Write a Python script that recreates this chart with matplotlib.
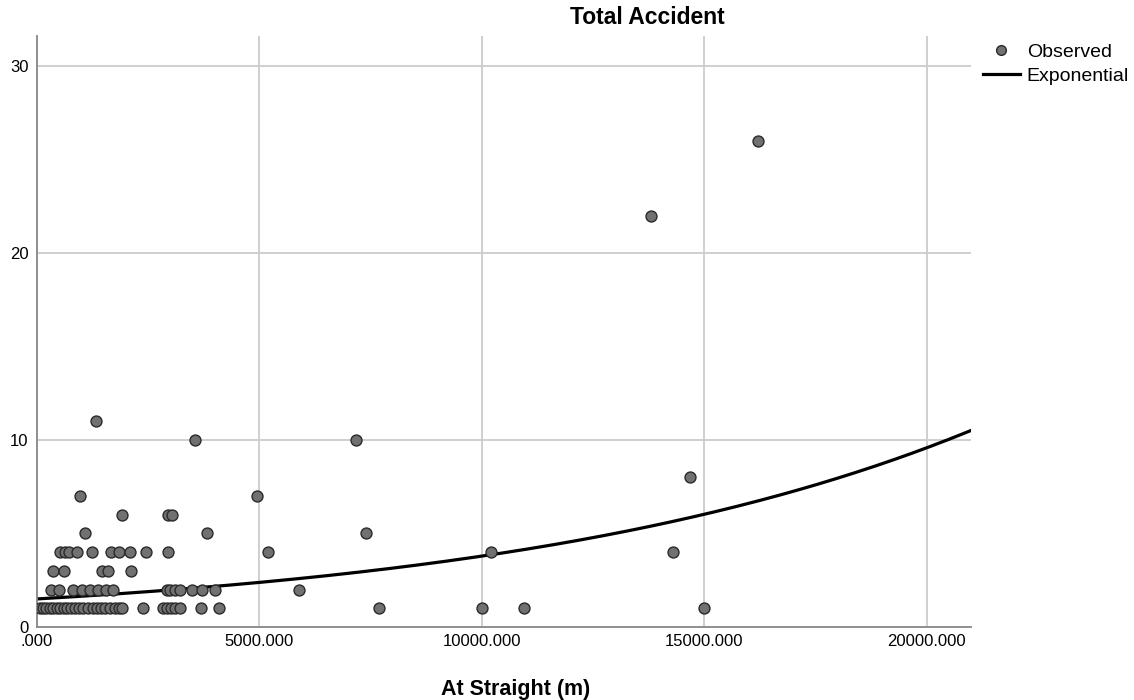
import numpy as np
import matplotlib
matplotlib.use('Agg')
import matplotlib.pyplot as plt
from matplotlib.lines import Line2D

plt.rcParams['font.family'] = ['Liberation Sans', 'DejaVu Sans']

# observed points, grouped by accident count
x_y1 = [70, 140, 200, 290, 360, 450, 520, 610, 680, 770, 860, 950, 1040, 1150,
        1260, 1350, 1440, 1530, 1640, 1760, 1850, 1910, 2390, 2840, 2930, 3020,
        3110, 3220, 3690, 4100, 7700, 10000, 10960, 15000]
x_y2 = [315, 495, 810, 1010, 1190, 1370, 1550, 1710, 2925, 2990, 3105, 3220,
        3490, 3710, 4005, 5900]
x_y3 = [360, 610, 1460, 1600, 2115]
x_y4 = [520, 630, 720, 900, 1240, 1660, 1840, 2090, 2450, 2950, 5200, 10200, 14300]
x_y5 = [1080, 3825, 7400]
x_y6 = [1910, 2950, 3040]
x_y7 = [970, 4950]
x_y8 = [14690]
x_y10 = [3550, 7180]
x_y11 = [1330]
x_y22 = [13800]
x_y26 = [16200]

groups = {1: x_y1, 2: x_y2, 3: x_y3, 4: x_y4, 5: x_y5, 6: x_y6, 7: x_y7,
          8: x_y8, 10: x_y10, 11: x_y11, 22: x_y22, 26: x_y26}

# exponential fit y = b0 * exp(b1 * x)
b0 = 1.5
b1 = 9.27e-5

xs = []
ys = []
for yv, xl in groups.items():
    xs += xl
    ys += [yv] * len(xl)

fig = plt.figure(figsize=(11.34, 7.0), dpi=100)
ax = fig.add_axes([37 / 1134, 1 - 627 / 700, (971 - 37) / 1134, (627 - 36) / 700])

ax.grid(True, color='#cccccc', linewidth=1.3)
ax.set_axisbelow(True)

xfit = np.linspace(0, 21000, 300)
ax.plot(xfit, b0 * np.exp(b1 * xfit), color='black', linewidth=2.3, zorder=2)
ax.scatter(xs, ys, s=62, facecolor='#717171', edgecolor='#2a2a2a',
           linewidth=1.0, zorder=3)

ax.set_xlim(0, 21000)
ax.set_ylim(0, 31.6)
ax.set_xticks([0, 5000, 10000, 15000, 20000])
ax.set_xticklabels(['.000', '5000.000', '10000.000', '15000.000', '20000.000'])
ax.set_yticks([0, 10, 20, 30])
ax.tick_params(length=0, labelsize=12, colors='black')
ax.tick_params(axis='x', pad=5)
ax.tick_params(axis='y', pad=6)

for s in ['top', 'right']:
    ax.spines[s].set_visible(False)
for s in ['left', 'bottom']:
    ax.spines[s].set_color('#888888')
    ax.spines[s].set_linewidth(1.3)

fig.text(647 / 1134, 1 - 18 / 700, 'Total Accident', ha='center', va='center',
         fontsize=16.5, fontweight='bold')
fig.text(516 / 1134, 1 - 690 / 700, 'At Straight (m)', ha='center', va='center',
         fontsize=15.5, fontweight='bold')

handles = [Line2D([], [], linestyle='none', marker='o', markersize=7,
                  markerfacecolor='#717171', markeredgecolor='#2a2a2a'),
           Line2D([], [], color='black', linewidth=2.3)]
fig.legend(handles, ['Observed', 'Exponential'], loc='upper left',
           bbox_to_anchor=(983 / 1134, 1 - 43 / 700), frameon=False,
           fontsize=14, handlelength=1.9, handletextpad=0.35,
           labelspacing=0.35, borderaxespad=0, borderpad=0)

fig.savefig('out.png', dpi=100)
